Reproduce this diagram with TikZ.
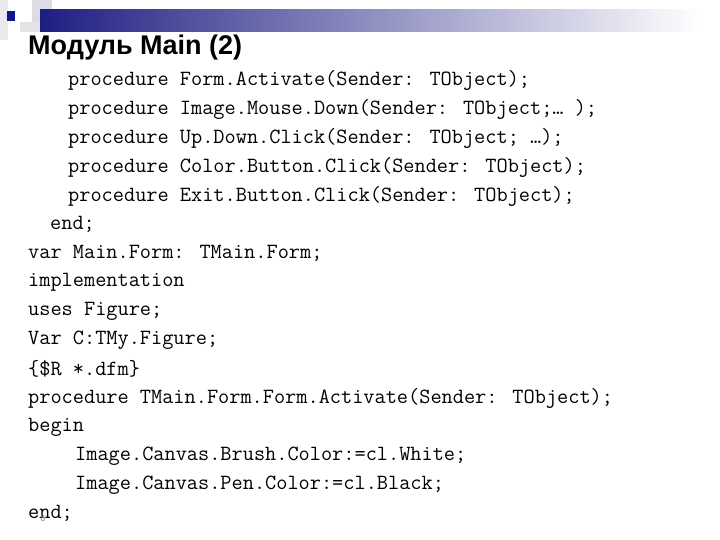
\documentclass[tikz,border=0pt]{standalone}
\usepackage{fontspec}
\setmainfont{Liberation Sans}
\definecolor{barblue}{RGB}{30,30,130}
\definecolor{sqblue}{RGB}{20,20,140}
\begin{document}
\begin{tikzpicture}[x=1pt,y=-1pt,
  code/.style={anchor=west,inner sep=0pt,font=\ttfamily\fontsize{21.7}{21.7}\selectfont}]
\useasboundingbox (0,0) rectangle (720,540);
\fill[white] (0,0) rectangle (720,540);
\fill[blue!8!gray!15] (0,0) rectangle (8,40);
\fill[blue!10!gray!25] (32,0) rectangle (52,32);
\fill[blue!8!gray!20] (20,22) rectangle (40,32);
\shade[left color=barblue, right color=white] (40,10) rectangle (700,32);
\fill[sqblue] (7,11) rectangle (15,21);
\node[anchor=west,inner sep=0pt,font=\bfseries\fontsize{27}{27}\selectfont] (title) at (28,48) {Модуль Main (2)};
\node[code] (l1) at (68,80) {procedure Form.Activate(Sender: TObject);};
\node[code] (l2) at (68,109) {procedure Image.Mouse.Down(Sender: TObject;… );};
\node[code] (l3) at (68,138) {procedure Up.Down.Click(Sender: TObject; …);};
\node[code] (l4) at (68,167) {procedure Color.Button.Click(Sender: TObject);};
\node[code] (l5) at (68,196) {procedure Exit.Button.Click(Sender: TObject);};
\node[code] (l6) at (50,224) {end;};
\node[code] (l7) at (28,253) {var Main.Form: TMain.Form;};
\node[code] (l8) at (28,282) {implementation};
\node[code] (l9) at (28,311) {uses Figure;};
\node[code] (l10) at (28,340) {Var C:TMy.Figure;};
\node[code] (l11) at (28,369) {\{\$R *.dfm\}};
\node[code] (l12) at (28,398) {procedure TMain.Form.Form.Activate(Sender: TObject);};
\node[code] (l13) at (28,427) {begin};
\node[code] (l14) at (75,456) {Image.Canvas.Brush.Color:=cl.White;};
\node[code] (l15) at (75,485) {Image.Canvas.Pen.Color:=cl.Black;};
\node[code] (l16) at (28,513) {end;};
\node[font=\fontsize{9}{9}\selectfont,text=gray,inner sep=0pt] (pg) at (43,518) {6};
\end{tikzpicture}
\end{document}
